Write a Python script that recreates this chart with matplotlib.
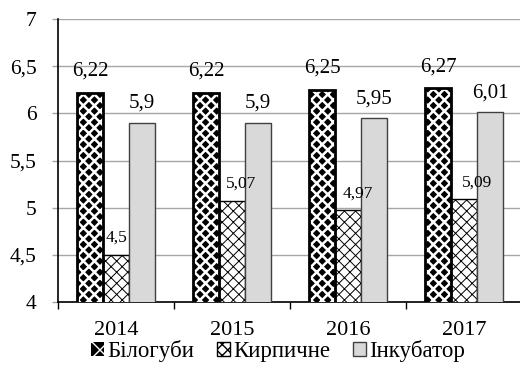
import matplotlib.pyplot as plt
import numpy as np
from matplotlib.patches import Patch

years = ['2014', '2015', '2016', '2017']
bilogubi = [6.22, 6.22, 6.25, 6.27]
kyrpychne = [4.5, 5.07, 4.97, 5.09]
inkubator = [5.9, 5.9, 5.95, 6.01]
series_names = ['Білогуби', 'Кирпичне', 'Інкубатор']
yticks = [4, 4.5, 5, 5.5, 6, 6.5, 7]

# small sideways shifts of the Кирпичне labels (points), as in the original
kyr_label_dx = [0, 6.5, 7, 9.5]

plt.rcParams['font.family'] = ['Liberation Serif', 'DejaVu Serif']


def fmt(v):
    return ('%g' % v).replace('.', ',')


fig = plt.figure(figsize=(5.2, 3.67), dpi=100)
ax = fig.add_axes([58 / 520, 1 - 302 / 367, 464 / 520, 283 / 367])

x = np.arange(len(years))
w = 0.224

b1 = ax.bar(x - w, bilogubi, w, color='black', edgecolor='white',
            hatch='xxx', linewidth=0, zorder=3)
ax.bar(x - w, bilogubi, w, fill=False, edgecolor='black', linewidth=2, zorder=4)
b2 = ax.bar(x, kyrpychne, w, color='white', edgecolor='black', hatch='xxx',
            linewidth=1, zorder=3)
b3 = ax.bar(x + w, inkubator, w, color='#d9d9d9', edgecolor='#404040',
            linewidth=1, zorder=3)
for p in b1:
    if hasattr(p, 'set_hatch_linewidth'):
        p.set_hatch_linewidth(1.8)
for p in b2:
    if hasattr(p, 'set_hatch_linewidth'):
        p.set_hatch_linewidth(0.7)

for i in range(len(years)):
    ax.annotate(fmt(bilogubi[i]), (x[i] - w, bilogubi[i]), xytext=(0, 8.5),
                textcoords='offset points', ha='center', va='bottom', fontsize=15)
    ax.annotate(fmt(kyrpychne[i]), (x[i], kyrpychne[i]), xytext=(kyr_label_dx[i], 6.5),
                textcoords='offset points', ha='center', va='bottom', fontsize=12.5,
                zorder=6)
    ax.annotate(fmt(inkubator[i]), (x[i] + w, inkubator[i]), xytext=(0, 7),
                textcoords='offset points', ha='center', va='bottom', fontsize=15)

ax.set_ylim(4, 7)
ax.set_xlim(-0.5, 3.5)
ax.set_yticks(yticks)
ax.set_yticklabels([fmt(v) for v in yticks], fontsize=15.5)
ax.yaxis.grid(True, color='#a6a6a6', linewidth=1, zorder=0)
ax.set_axisbelow(True)

ax.set_xticks(np.arange(-0.5, 4, 1))
ax.set_xticklabels([])
ax.set_xticks(x, minor=True)
ax.set_xticklabels(years, minor=True, fontsize=16)
ax.tick_params(axis='x', which='minor', length=0, pad=14)
ax.tick_params(axis='x', which='major', length=5, direction='out', width=1)
ax.tick_params(axis='y', length=4.5, width=1, color='#a6a6a6', pad=11)

for s in ['top', 'right']:
    ax.spines[s].set_visible(False)
ax.spines['left'].set_linewidth(1.2)
ax.spines['bottom'].set_linewidth(1.2)

handles = [Patch(facecolor='black', edgecolor='white', hatch='xx', linewidth=0),
           Patch(facecolor='white', edgecolor='black', hatch='xxx'),
           Patch(facecolor='#d9d9d9', edgecolor='#404040')]
leg = fig.legend(handles, series_names, loc='lower center', bbox_to_anchor=(0.535, -0.03),
                 ncol=3, frameon=False, prop={'family': ['Liberation Serif'], 'size': 16.5},
                 handlelength=0.55, handleheight=0.55,
                 handletextpad=0.15, columnspacing=1.0, borderpad=0.2)

fig.savefig('out.png', dpi=100)
